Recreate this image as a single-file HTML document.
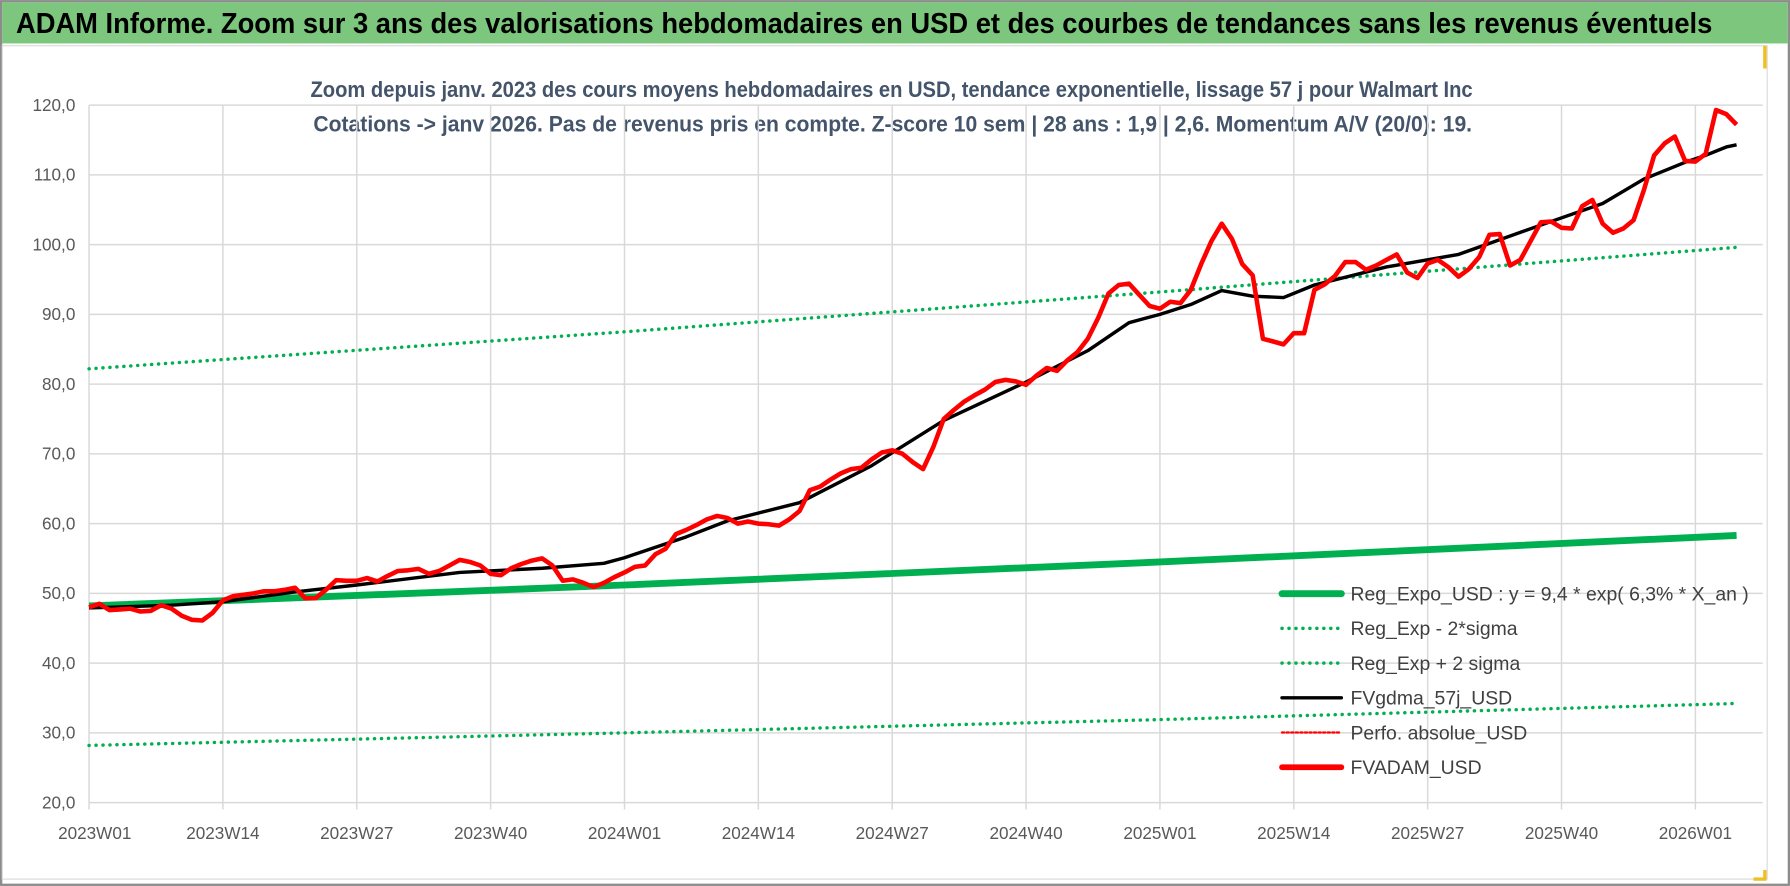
<!DOCTYPE html>
<html><head><meta charset="utf-8"><style>
html,body{margin:0;padding:0;background:#fff;}
svg{display:block;}
text{font-family:"Liberation Sans Narrow","Liberation Sans",sans-serif;}
</style></head><body>
<svg id="chart" width="1790" height="886" viewBox="0 0 1568 776">
<rect x="0" y="0" width="1568" height="776" fill="#fff"/>
<rect x="1" y="1" width="1566" height="774" fill="none" stroke="#8c8c8c" stroke-width="2"/>
<rect x="2" y="2" width="1564" height="36" fill="#7dc67d"/>
<text x="14" y="29" font-size="25" font-weight="bold" fill="#000" textLength="1486" lengthAdjust="spacingAndGlyphs">ADAM Informe. Zoom sur 3 ans des valorisations hebdomadaires en USD et des courbes de tendances sans les revenus éventuels</text>
<rect x="2" y="40" width="1546" height="730" fill="none" stroke="#d9d9d9" stroke-width="1"/>
<path d="M1546 40 v20 M1546 762 v8 h-10" stroke="#f0c020" stroke-width="3" fill="none"/>
<text x="781" y="85" font-size="19.5" font-weight="bold" fill="#44546a" text-anchor="middle" textLength="1018" lengthAdjust="spacingAndGlyphs">Zoom depuis janv. 2023 des cours moyens hebdomadaires en USD, tendance exponentielle, lissage 57 j pour Walmart Inc</text>
<text x="782" y="115" font-size="19.5" font-weight="bold" fill="#44546a" text-anchor="middle" textLength="1015" lengthAdjust="spacingAndGlyphs">Cotations -&gt; janv 2026. Pas de revenus pris en compte. Z-score 10 sem | 28 ans : 1,9 | 2,6. Momentum A/V (20/0): 19.</text>
<g id="grid"></g><g id="axes"></g><g id="series"></g><g id="legend"></g>
</svg>
<script>
const yTicks=[20,30,40,50,60,70,80,90,100,110,120];
const xTickLabels=["2023W01","2023W14","2023W27","2023W40","2024W01","2024W14","2024W27","2024W40","2025W01","2025W14","2025W27","2025W40","2026W01"];
const xTickWeeks=[0,13,26,39,52,65,78,91,104,117,130,143,156];
const fvadam=[48,48.5,47.6,47.7,47.8,47.4,47.5,48.3,47.8,46.8,46.2,46.1,47.2,49.0,49.6,49.8,50.0,50.3,50.3,50.5,50.8,49.3,49.3,50.5,51.9,51.8,51.8,52.2,51.7,52.5,53.2,53.3,53.5,52.8,53.2,54.0,54.8,54.5,54.0,52.8,52.6,53.6,54.2,54.7,55.0,54.0,51.8,52.0,51.5,50.9,51.5,52.3,53.0,53.8,54.0,55.6,56.4,58.5,59.1,59.8,60.6,61.1,60.8,60.0,60.3,60.0,59.9,59.7,60.6,61.8,64.8,65.3,66.3,67.2,67.8,68.0,69.2,70.2,70.5,70.0,68.8,67.8,71.0,75.0,76.3,77.5,78.4,79.2,80.3,80.6,80.4,79.9,81.2,82.3,81.9,83.4,84.6,86.5,89.5,93.0,94.2,94.4,92.8,91.2,90.8,91.8,91.6,93.5,97.2,100.5,103.0,100.8,97.2,95.6,86.5,86.1,85.7,87.3,87.3,93.5,94.3,95.5,97.5,97.5,96.4,97.0,97.8,98.6,96.0,95.2,97.3,97.8,96.8,95.4,96.5,98.2,101.4,101.5,97.0,97.8,100.5,103.2,103.3,102.4,102.3,105.5,106.4,103.0,101.7,102.3,103.5,107.8,112.8,114.5,115.5,112.0,111.9,113.0,119.3,118.7,117.2];
const gdmaWeeks=[0,8,13,20,26,36,44,50,52,58,62,69,76,83,91,97,101,104,107,110,113,116,119,126,133,141,147,151,155,157,159,160];
const gdma=[47.9,48.3,48.8,50.2,51.2,53.0,53.6,54.3,55.1,58.1,60.4,63.0,68.3,74.8,80.3,84.8,88.8,90.0,91.4,93.4,92.6,92.4,94.2,96.8,98.6,102.8,105.9,109.4,111.8,112.8,114.0,114.3];
const regWeeks=[0,52,104,160];
const regExpo=[48.2,51.2,54.5,58.3];
const regUpper=[82.2,87.5,93.2,99.6];
const regLower=[28.2,30.0,31.9,34.2];
const NS="http://www.w3.org/2000/svg";
const X0=78,PXW=9.02,Y120=92,Y20=703;
function xs(w){return X0+w*PXW;}
function ys(v){return Y20-(v-20)*(Y20-Y120)/100;}
function mk(tag,attrs,parent){const e=document.createElementNS(NS,tag);for(const k in attrs)e.setAttribute(k,attrs[k]);parent.appendChild(e);return e;}
const grid=document.getElementById('grid'),axes=document.getElementById('axes'),ser=document.getElementById('series'),leg=document.getElementById('legend');
yTicks.forEach(v=>{
 const l=mk('line',{x1:X0,x2:1544,y1:ys(v),y2:ys(v),stroke:'#d9d9d9','stroke-width':1.3},grid);
 
 
 const t=mk('text',{x:66,y:ys(v)+5,'font-size':15,fill:'#595959','text-anchor':'end'},axes);
 t.textContent=v.toFixed(1).replace('.',',');
 
 
});
xTickWeeks.forEach((w,i)=>{
 const l=mk('line',{x1:xs(w),x2:xs(w),y1:Y120,y2:Y20+6,stroke:'#d9d9d9','stroke-width':1.3},grid);
 
 
 const t=mk('text',{x:i==0?xs(w)+5:xs(w),y:735,'font-size':15,fill:'#595959','text-anchor':'middle'},axes);
 t.textContent=xTickLabels[i];
 
 
});
function pts(weeks,vals){return vals.map((v,i)=>xs(weeks?weeks[i]:i).toFixed(1)+','+ys(v).toFixed(1)).join(' ');}
function poly(weeks,vals,stroke,w,dash,name){
 const p=mk('polyline',{points:pts(weeks,vals),fill:'none',stroke:stroke,'stroke-width':w,'stroke-linejoin':'round','stroke-linecap':dash?'round':'butt'},ser);
 if(dash)p.setAttribute('stroke-dasharray',dash);
 
 
}
poly(regWeeks,regUpper,'#00b050',3,'0.1 6','reg-upper-line');
poly(regWeeks,regLower,'#00b050',3,'0.1 6','reg-lower-line');
poly(regWeeks,regExpo,'#00b050',6,null,'reg-expo-line');
poly(gdmaWeeks,gdma,'#000',3,null,'fvgdma-line');
poly(null,fvadam,'#ff0000',4,null,'fvadam-line');
const legItems=[["Reg_Expo_USD : y = 9,4 * exp( 6,3% *  X_an )",'#00b050',6,null],["Reg_Exp - 2*sigma",'#00b050',3,'0.1 6'],["Reg_Exp + 2 sigma",'#00b050',3,'0.1 6'],["FVgdma_57j_USD",'#000',3,null],["Perfo. absolue_USD",'#ff0000',2,'2 2'],["FVADAM_USD",'#ff0000',5,null]];
legItems.forEach((it,i)=>{
 const y=520+i*30.4;
 const g=mk('g',{},leg);
 
 
 const l=mk('line',{x1:1123,x2:1175,y1:y,y2:y,stroke:it[1],'stroke-width':it[2],'stroke-linecap':'round'},g);
 if(it[3])l.setAttribute('stroke-dasharray',it[3]);
 const t=mk('text',{x:1183,y:y+6,'font-size':17,fill:'#404040'},g);
 t.textContent=it[0];
});
</script>
</body></html>
